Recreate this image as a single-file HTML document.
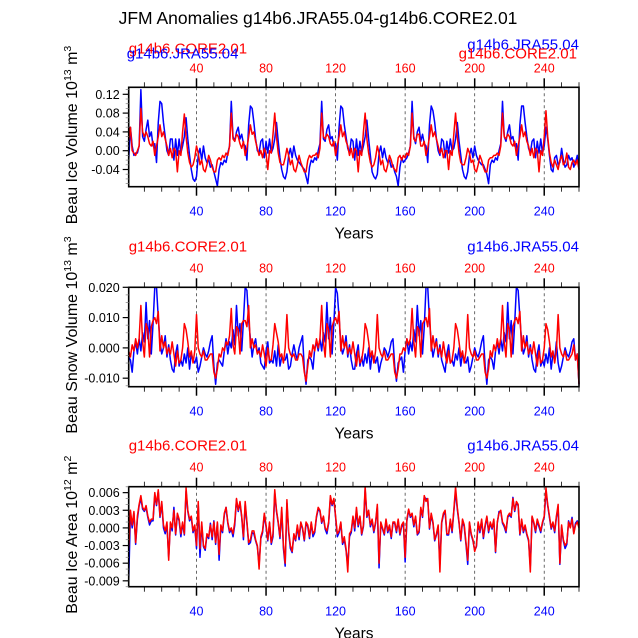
<!DOCTYPE html>
<html><head><meta charset="utf-8"><style>
html,body{margin:0;padding:0;background:#fff}
svg{display:block;font-family:"Liberation Sans",Arial,sans-serif}
</style></head><body>
<svg id="chart" width="638" height="638" viewBox="0 0 638 638">
<text x="318" y="24" font-size="17.5" text-anchor="middle">JFM Anomalies g14b6.JRA55.04-g14b6.CORE2.01</text>
</svg>
<script>
// ---- data (values in units of 0.001 / 0.001 / 0.0001) ----
const years = Array.from({length:260},(_,i)=>i+1);
const xTicks = [40,80,120,160,200,240];
const iceVolTicks = [0.12,0.08,0.04,0.00,-0.04];
const iceVolTickLabels = ["0.12","0.08","0.04","0.00","-0.04"];
const snowTicks = [0.02,0.01,0,-0.01];
const snowTickLabels = ["0.020","0.010","0.000","-0.010"];
const areaTicks = [0.006,0.003,0,-0.003,-0.006,-0.009];
const areaTickLabels = ["0.006","0.003","0.000","-0.003","-0.006","-0.009"];

const iceVolJRA = [
-20,50,10,-10,-5,-5,10,130,30,20,45,65,30,40,10,15,-25,60,105,100,60,30,0,-10,25,25,-20,25,-10,25,-5,10,30,70,25,-10,-40,-60,-65,-55,-10,5,-20,10,-15,-25,-20,-35,-30,-45,-60,-75,
-40,-25,-30,-20,-25,-5,10,105,30,20,40,50,25,35,15,10,-20,55,95,90,60,25,0,-5,20,25,-15,20,-5,25,-5,5,25,60,20,-15,-40,-55,-60,-45,-10,5,-15,10,-10,-20,-25,-30,-35,-40,-55,-70,
-35,-20,-25,-15,-20,0,15,105,25,20,45,55,25,30,10,15,-20,50,95,90,55,30,5,-5,25,20,-20,25,-10,20,-5,10,30,65,25,-10,-45,-55,-60,-50,-5,10,-15,5,-15,-25,-20,-35,-30,-45,-55,-75,
-35,-15,-25,-20,-15,-5,10,105,30,15,40,50,20,35,15,10,-25,55,95,85,60,25,0,-10,25,20,-15,20,-5,25,0,5,25,60,20,-10,-40,-55,-60,-45,-10,5,-15,10,-10,-20,-25,-30,-30,-40,-50,-70,
-30,-20,-25,-15,-20,0,15,105,30,20,40,55,25,30,10,15,-20,55,95,95,60,30,5,-5,20,25,-15,20,-5,25,-5,10,50,25,-10,-40,-45,-15,-10,-30,-25,5,-20,-35,-30,-10,-20,-15,-35,-25,-10,-40];
const iceVolCORE = [
20,50,0,-5,-10,0,10,90,40,30,40,30,15,10,20,-10,10,30,55,30,40,25,10,-10,5,-15,5,0,-45,0,-10,40,78,30,-5,-25,-35,-30,-15,10,-5,-30,-20,-40,-45,-30,-10,-20,-35,-45,-45,-20,
-15,-20,-10,-15,-5,-10,10,80,25,20,35,30,15,5,20,-10,5,30,55,35,40,20,5,-10,0,-15,5,-5,-40,0,-5,35,80,30,-5,-25,-30,-30,-15,5,-10,-30,-20,-40,-45,-30,-10,-25,-35,-45,-45,-20,
-10,-15,-10,-10,-5,-15,5,80,30,25,35,30,15,10,20,-10,10,30,55,30,40,20,10,-10,5,-15,5,0,-45,0,-10,40,80,25,-5,-25,-35,-30,-15,10,-5,-30,-20,-40,-45,-30,-10,-20,-35,-40,-45,-15,
-10,-20,-10,-15,-5,-10,10,80,25,20,35,35,10,10,20,-10,5,30,55,30,40,25,10,-5,5,-15,0,0,-40,0,-10,35,80,30,-5,-25,-30,-30,-15,5,-5,-25,-20,-40,-45,-30,-10,-20,-35,-45,-45,-20,
-15,-15,-10,-10,-5,-10,10,80,30,25,35,30,15,10,20,-10,10,30,55,30,40,20,10,-10,5,-15,5,0,-45,0,-10,30,85,30,-5,-25,-35,-20,-30,-40,-20,-10,-30,-25,-5,-35,-40,-25,-20,-30,-20,-40];
const snowJRA = [
-3,-4,-8,-1,2,-2,3,-1,5,2,15,3,9,-2,8,20,20,10,2,-2,0,4,-3,1,-4,-7,-8,-2,1,-6,-4,-6,-2,-5,0,-7,-2,-4,-5,-3,-8,-6,-3,0,-2,-3,-1,2,4,-6,-12,-5,
-4,-5,-6,-1,3,-2,2,0,6,1,14,4,8,-1,9,20,19,9,3,-3,1,3,-2,0,-5,-6,-7,-1,2,-5,-4,-5,-1,-6,1,-6,-3,-4,-4,-2,-7,-6,-2,1,-2,-4,0,2,4,-7,-12,-4,
-3,-4,-7,0,2,-1,3,-1,5,2,15,3,10,-2,8,20,18,10,1,-2,0,4,-3,1,-4,-7,-7,-2,1,-6,-3,-6,-2,-5,0,-7,-2,-3,-5,-3,-8,-5,-3,0,-1,-3,-1,2,3,-6,-11,-5,
-4,-3,-8,-1,3,-2,2,-1,6,2,14,4,9,-2,7,20,20,9,2,-3,0,3,-3,1,-4,-6,-8,-2,1,-5,-4,-6,-2,-4,0,-6,-2,-4,-5,-3,-8,-6,-3,0,-2,-3,-1,2,4,-6,-12,-4,
-3,-4,-7,-1,2,-2,3,-1,5,2,15,3,9,-2,8,20,19,10,2,-2,0,4,-3,1,-4,-7,-8,-2,1,-6,-4,-6,-2,-5,0,-7,-2,-4,2,-5,-8,-6,-3,0,-2,-3,-1,2,3,-4,-2,-12];
const snowCORE = [
-1,-3,1,-1,3,0,3,14,2,-3,8,6,-3,7,9,10,8,12,-1,4,0,2,-2,0,-2,2,-2,-6,-1,-5,-4,0,8,6,2,-3,-1,-5,-1,11,0,-2,-3,-1,-4,-4,-3,-2,-2,-8,-10,-7,
-2,-3,0,-1,2,1,4,13,1,-2,7,6,-2,8,9,9,7,14,0,3,0,1,-2,-1,-3,1,-2,-6,0,-4,-4,1,8,5,2,-3,-2,-5,0,11,0,-2,-3,-2,-4,-4,-2,-2,-3,-8,-11,-6,
-1,-3,1,-1,3,0,3,14,2,-3,8,6,-3,7,9,10,8,12,-1,4,0,2,-2,0,-2,2,-2,-6,-1,-5,-4,0,8,6,2,-3,-1,-5,-1,11,0,-2,-3,-1,-4,-4,-3,-2,-2,-8,-10,-7,
-2,-2,0,-1,3,1,3,13,2,-3,7,6,-3,8,9,10,7,13,-1,4,0,2,-2,0,-3,2,-2,-5,-1,-5,-4,0,8,6,2,-3,-1,-5,-1,11,0,-2,-3,-1,-4,-4,-3,-2,-2,-8,-10,-7,
-1,-3,1,-1,3,0,3,14,2,-3,8,6,-3,7,9,10,8,12,-1,4,0,2,-2,0,-2,2,-2,-6,-1,-5,-4,0,8,6,2,-3,-1,-5,-1,11,0,-2,-3,-1,-4,-4,-3,-2,1,-4,-2,-12];
const areaCORE = [
-40,30,5,28,-25,20,40,55,35,30, 38,20,10,15,15,60,40,65,20,45, 5,-5,10,-55,10,0,30,-10,25,15, -10,10,-10,68,30,15,20,-5,5,-30,
45,-35,10,-30,-35,-10,-15,5,-15,10, -25,10,-45,5,-5,25,35,10,-5,0, -10,10,50,30,45,20,-15,45,10,-25, -20,-5,-5,-20,-30,-70,-15,-5,25,5,
-20,10,-25,-10,65,30,10,-15,35,-30, -60,48,-5,-30,-40,-10,-20,5,-15,10, 0,-20,10,5,-15,10,-10,-5,20,35, 30,10,20,0,-5,10,55,40,50,20,
-10,-5,10,-25,-15,-35,-75,-10,-5,20, 0,35,5,20,-10,5,72,20,30,5, 15,-5,10,40,-60,10,0,-10,15,-5, 5,-15,10,10,-5,15,-10,5,10,-50,
15,32,20,25,5,20,-10,-5,35,20, 55,45,50,0,25,10,-20,-10,5,-75, 10,25,30,-10,-10,15,-5,30,70,35, 10,-20,15,5,-25,-55,10,-10,-20,-40,
-30,10,-5,15,-15,5,20,-5,10,0, 15,-40,10,25,30,10,5,-5,20,25, 20,50,30,45,40,-10,15,-5,5,-10, -20,-75,20,10,-5,15,5,-5,10,20,
68,40,20,0,10,-5,20,40,-60,5, -20,-30,-25,10,0,15,-10,5,10,0];
const areaJRA = [
-90,25,0,25,-28,15,38,50,32,28, 35,18,5,12,12,55,38,62,18,42, 0,-10,5,-50,8,-5,35,-12,22,12, -15,8,-12,62,28,12,18,-8,2,-35,
40,-50,5,-32,-38,-12,-18,8,-20,12, -28,8,-55,2,-8,22,35,8,-8,-2, -15,5,48,28,42,18,-20,40,8,-28, -25,-8,-10,-22,-32,-62,-18,-8,22,2,
-22,8,-28,-15,60,28,8,-18,30,-35, -65,42,-8,-35,-42,-12,-22,2,-20,8, -2,-22,8,2,-18,8,-15,-8,18,32, 28,8,18,-2,-10,8,50,38,48,18,
-15,-8,8,-28,-20,-38,-65,-15,-8,18, -5,30,2,18,-12,2,65,18,28,2, 12,-8,8,35,-68,8,-2,-12,12,-8, 2,-18,8,8,-8,12,-12,2,8,-58,
12,30,18,22,2,18,-12,-8,32,18, 52,50,48,-2,22,8,-22,-12,2,-62, 8,22,28,-12,-12,12,-8,28,62,32, 8,-22,12,2,-28,-62,8,-12,-22,-38,
-32,8,-8,12,-18,2,18,-8,8,-2, 12,-42,8,28,28,8,2,-8,18,22, 18,52,28,42,38,-12,12,-8,2,-12, -22,-65,18,8,-8,12,2,-8,8,18,
62,38,18,-2,8,-8,18,35,-62,2, -22,-35,-28,12,2,18,-8,8,12,5];

// ---- drawing ----
const NS="http://www.w3.org/2000/svg";
const svg=document.getElementById('chart');
const XMIN=1,XMAX=260,L=128.7,R=579;
function xs(t){return L+(t-XMIN)/(XMAX-XMIN)*(R-L);}
function mk(tag,attrs,parent){const e=document.createElementNS(NS,tag);for(const k in attrs)e.setAttribute(k,attrs[k]);(parent||svg).appendChild(e);return e;}

const panels=[
 {id:'ice-volume',top:87.3,bot:186.7,ymin:-0.0766,ymax:0.1349,scale:0.001,blue:iceVolJRA,red:iceVolCORE,ticks:iceVolTicks,labels:iceVolTickLabels,minor:0.01,
  label:['Beau Ice Volume 10','13',' m','3'],overlap:true},
 {id:'snow-volume',top:287.3,bot:386.7,ymin:-0.01281,ymax:0.0200,scale:0.001,blue:snowJRA,red:snowCORE,ticks:snowTicks,labels:snowTickLabels,minor:0.0025,
  label:['Beau Snow Volume 10','13',' m','3'],overlap:false},
 {id:'ice-area',top:486.7,bot:586.7,ymin:-0.0100,ymax:0.00701,scale:0.0001,blue:areaJRA,red:areaCORE,ticks:areaTicks,labels:areaTickLabels,minor:0.001,
  label:['Beau Ice Area 10','12',' m','2'],overlap:false}
];

panels.forEach(p=>{
  const g=mk('g',{});
  
  
  const ys=v=>p.bot-(v-p.ymin)/(p.ymax-p.ymin)*(p.bot-p.top);
  xTicks.forEach(t=>{
    const l=mk('line',{x1:xs(t),x2:xs(t),y1:p.top,y2:p.bot,stroke:'#444','stroke-width':0.8,'stroke-dasharray':'3,3'},g);
    
    
  });
  [['blue',p.blue,'#0000ff'],['red',p.red,'#ff0000']].forEach(([nm,arr,col])=>{
    const pts=arr.map((v,i)=>{let yy=ys(v*p.scale);yy=Math.max(p.top,Math.min(p.bot,yy));return xs(years[i]).toFixed(2)+','+yy.toFixed(2);}).join(' ');
    const pl=mk('polyline',{points:pts,fill:'none',stroke:col,'stroke-width':1.5,'stroke-linejoin':'round'},g);
    
    
  });
  const fr=mk('rect',{x:L,y:p.top,width:R-L,height:p.bot-p.top,fill:'none',stroke:'#000','stroke-width':1.6},g);
  
  
  for(let t=10;t<=260;t+=10){
    const maj=t%40===0, len=maj?9:5;
    mk('line',{x1:xs(t),x2:xs(t),y1:p.top,y2:p.top-len,stroke:'#000','stroke-width':maj?1.5:0.8},g);
    mk('line',{x1:xs(t),x2:xs(t),y1:p.bot,y2:p.bot+len,stroke:'#000','stroke-width':maj?1.5:0.8},g);
  }
  xTicks.forEach(t=>{
    const a=mk('text',{x:xs(t),y:p.top-15,'font-size':12.5,fill:'#ff0000','text-anchor':'middle'},g);a.textContent=t;
    
    
    const b=mk('text',{x:xs(t),y:p.bot+29,'font-size':12.5,fill:'#0000ff','text-anchor':'middle'},g);b.textContent=t;
    
    
  });
  for(let v=Math.ceil(p.ymin/p.minor)*p.minor;v<=p.ymax+1e-9;v+=p.minor){
    mk('line',{x1:L,x2:L-3,y1:ys(v),y2:ys(v),stroke:'#888','stroke-width':0.8},g);
  }
  p.ticks.forEach((v,i)=>{
    mk('line',{x1:L,x2:L-6,y1:ys(v),y2:ys(v),stroke:'#000','stroke-width':1.2},g);
    const t=mk('text',{x:L-9,y:ys(v)+4.5,'font-size':12.5,'text-anchor':'end'},g);t.textContent=p.labels[i];
    
    
  });
  const cy=(p.top+p.bot)/2-2;
  const yt=mk('text',{x:0,y:0,'font-size':16,'text-anchor':'middle',transform:`translate(77,${cy}) rotate(-90)`},g);
  
  
  const s1=mk('tspan',{},yt);s1.textContent=p.label[0];
  const s2=mk('tspan',{dy:-6,'font-size':10.5},yt);s2.textContent=p.label[1];
  const s3=mk('tspan',{dy:6},yt);s3.textContent=p.label[2];
  const s4=mk('tspan',{dy:-6,'font-size':10.5},yt);s4.textContent=p.label[3];
  const xt=mk('text',{x:354,y:p.bot+52,'font-size':15.5,'text-anchor':'middle'},g);xt.textContent='Years';
  
  
  if(p.overlap){
    const a=mk('text',{x:L,y:p.top-34,'font-size':15,fill:'#ff0000'},g);a.textContent='g14b6.CORE2.01';
    
    const b=mk('text',{x:L-2,y:p.top-29,'font-size':15,fill:'#0000ff'},g);b.textContent='g14b6.JRA55.04';
    
    const c=mk('text',{x:R,y:p.top-38,'font-size':15,fill:'#0000ff','text-anchor':'end'},g);c.textContent='g14b6.JRA55.04';
    
    const d=mk('text',{x:R-2,y:p.top-29,'font-size':15,fill:'#ff0000','text-anchor':'end'},g);d.textContent='g14b6.CORE2.01';
    
  }else{
    const a=mk('text',{x:L,y:p.top-36,'font-size':15,fill:'#ff0000'},g);a.textContent='g14b6.CORE2.01';
    
    const c=mk('text',{x:R,y:p.top-36,'font-size':15,fill:'#0000ff','text-anchor':'end'},g);c.textContent='g14b6.JRA55.04';
    
  }
});
</script>
</body></html>
